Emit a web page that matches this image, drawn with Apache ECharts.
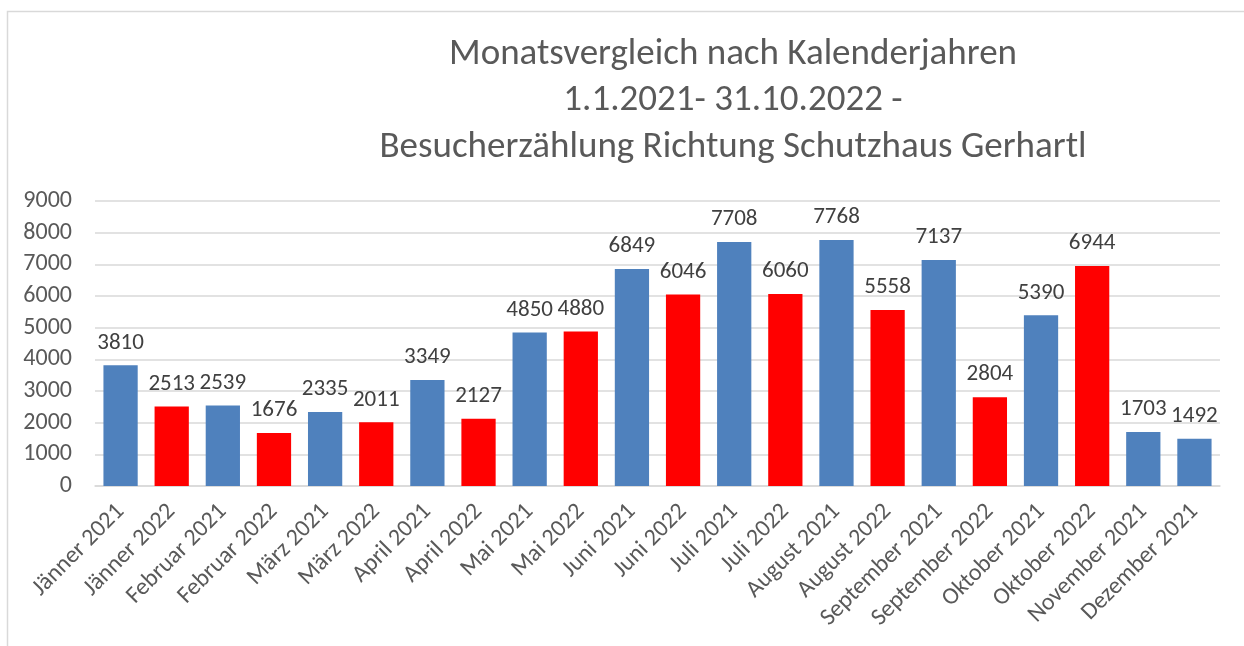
<!DOCTYPE html>
<html><head><meta charset="utf-8">
<script src="https://cdn.jsdelivr.net/npm/echarts@6/dist/echarts.min.js"></script>
<style>html,body{margin:0;padding:0;background:#fff}#c{width:1244px;height:646px}</style>
</head><body><div id="c"></div>
<script>
const categories = ["Jänner 2021","Jänner 2022","Februar 2021","Februar 2022","März 2021","März 2022","April 2021","April 2022","Mai 2021","Mai 2022","Juni 2021","Juni 2022","Juli 2021","Juli 2022","August 2021","August 2022","September 2021","September 2022","Oktober 2021","Oktober 2022","November 2021","Dezember 2021"];
const values = [3810,2513,2539,1676,2335,2011,3349,2127,4850,4880,6849,6046,7708,6060,7768,5558,7137,2804,5390,6944,1703,1492];
const years = [2021,2022,2021,2022,2021,2022,2021,2022,2021,2022,2021,2022,2021,2022,2021,2022,2021,2022,2021,2022,2021,2021];
const titleLines = ["Monatsvergleich nach Kalenderjahren","1.1.2021- 31.10.2022 -","Besucherzählung Richtung Schutzhaus Gerhartl"];
const yTicks = [0,1000,2000,3000,4000,5000,6000,7000,8000,9000];

const FONT = "Carlito, 'Liberation Sans Narrow', 'Open Sans', sans-serif";
const chart = echarts.init(document.getElementById('c'));
chart.setOption({
  animation:false,
  graphic:[{type:'rect',shape:{x:7.5,y:11.5,width:1260,height:700},style:{fill:'none',stroke:'#d9d9d9',lineWidth:1.5}}],
  title:{text:titleLines.join('\n'),left:728,top:26,textAlign:'center',
    textStyle:{fontFamily:FONT,fontSize:37,fontWeight:'normal',color:'#595959',lineHeight:46.5}},
  grid:{left:95,right:24,top:201,bottom:160},
  xAxis:{type:'category',data:categories,
    axisLine:{lineStyle:{color:'#d9d9d9',width:1.5}},axisTick:{show:false},
    axisLabel:{rotate:45,interval:0,fontFamily:FONT,fontSize:24,color:'#595959',margin:22}},
  yAxis:{type:'value',min:yTicks[0],max:yTicks[yTicks.length-1],interval:1000,
    axisLine:{show:false},axisTick:{show:false},
    splitLine:{lineStyle:{color:'#d9d9d9',width:1.5}},
    axisLabel:{fontFamily:FONT,fontSize:24,color:'#595959',margin:23,formatter:v=>String(v)}},
  series:[{type:'bar',barCategoryGap:'33%',
    data:values.map((v,i)=>({value:v,itemStyle:{color:years[i]===2022?'#ff0000':'#4f81bd'}})),
    label:{show:true,position:'top',distance:11,fontFamily:FONT,fontSize:23,color:'#404040'}}]
});
</script></body></html>
